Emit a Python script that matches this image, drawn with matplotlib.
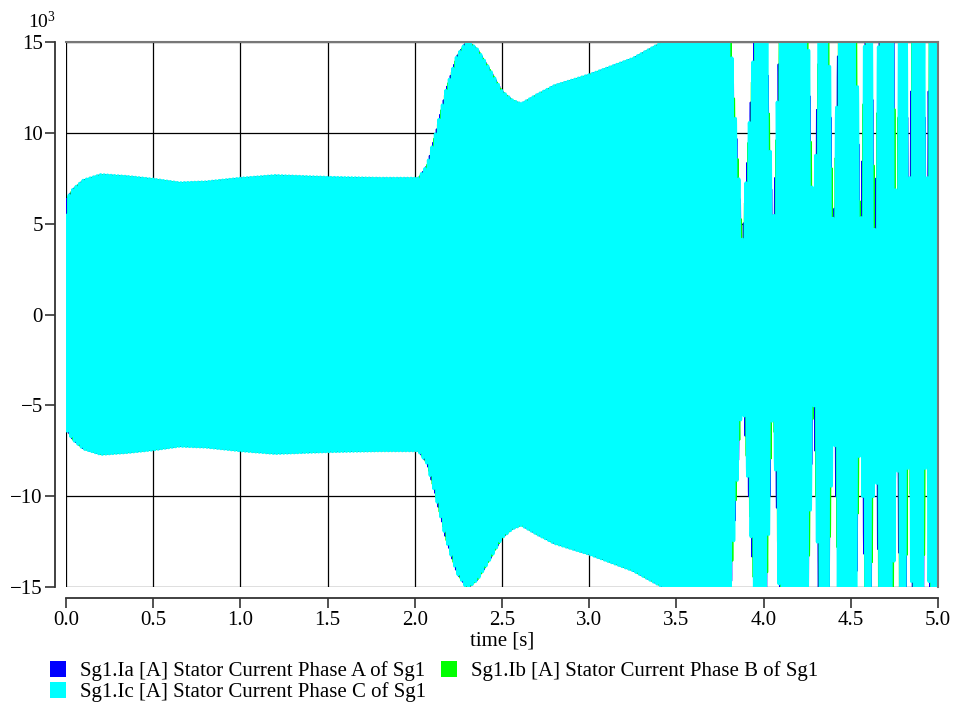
import numpy as np
import matplotlib.pyplot as plt
from matplotlib.patches import Patch

# upper envelope of the stator currents (kA) up to the loss of synchronism
env_t = [0.00, 0.04, 0.10, 0.20, 0.35, 0.50, 0.65, 0.80, 1.00, 1.20, 1.50, 1.80,
         2.02, 2.07, 2.12, 2.18, 2.24, 2.30, 2.36, 2.43, 2.50, 2.56, 2.61, 2.70,
         2.80, 3.00, 3.25, 3.42, 3.60]
env_a = [6.3, 6.9, 7.4, 7.7, 7.6, 7.45, 7.25, 7.3, 7.5, 7.65, 7.55, 7.5,
         7.5, 8.2, 10.0, 12.4, 14.2, 15.1, 14.6, 13.5, 12.3, 11.8, 11.6, 12.1,
         12.6, 13.2, 14.1, 15.0, 20.0]

# pole slips: time of each envelope dip and its half width at 15 kA
slip_t = [3.879, 4.054, 4.286, 4.401, 4.556, 4.639, 4.762, 4.834, 4.934]
slip_hw = [0.066, 0.035, 0.029, 0.026, 0.023, 0.020, 0.016, 0.015, 0.015]
slip_floor = 4.0
slip_peak = 37.0
end_amp = 13.0

f_grid = 50.0
t_end = 5.0

labels = ['Sg1.Ia [A] Stator Current Phase A of Sg1',
          'Sg1.Ib [A] Stator Current Phase B of Sg1',
          'Sg1.Ic [A] Stator Current Phase C of Sg1']
colours = ['#0000ff', '#00ff00', '#00ffff']
shifts = [0.0, -120.0, 120.0]
widths = [1.2, 1.2, 2.3]

xticks = np.arange(0, 5.01, 0.5)
yticks = np.arange(-15, 16, 5)

# envelope knots incl. the slip dips
kt = list(env_t)
ka = list(env_a)
for c, hw in zip(slip_t, slip_hw):
    left = c - hw
    if left - kt[-1] > 0.02:
        kt.append(0.5 * (kt[-1] + left))
        ka.append(slip_peak)
    kt += [left, c, c + hw]
    ka += [15.0, slip_floor, 15.0]
kt += [0.5 * (kt[-1] + t_end), t_end]
ka += [slip_peak, end_amp]

t = np.linspace(0, t_end, 25001)
amp = np.interp(t, kt, ka)

plt.rcParams['font.family'] = ['Liberation Serif', 'DejaVu Serif']
plt.rcParams['font.size'] = 15

fig = plt.figure(figsize=(9.55, 7.06), dpi=100)
ax = fig.add_axes([66 / 955, 1 - 587 / 706, 872 / 955, 545 / 706])

for col, sh, lw in zip(colours, shifts, widths):
    i = amp * np.sin(2 * np.pi * f_grid * t + np.deg2rad(sh))
    ax.plot(t, i, color=col, lw=lw)

ax.set_xlim(0, t_end)
ax.set_ylim(-15, 15)
ax.set_xticks(xticks)
ax.set_xticklabels(['%.1f' % v for v in xticks])
ax.set_yticks(yticks)
ax.set_yticklabels([('%d' % v).replace('-', '\u2212') for v in yticks])
ax.grid(True, color='black', lw=0.9)
ax.set_axisbelow(True)

for s in ['left', 'bottom']:
    ax.spines[s].set_position(('outward', 8))
    ax.spines[s].set_color('#333333')
    ax.spines[s].set_linewidth(1.3)
for s in ['top', 'right']:
    ax.spines[s].set_color('#777777')
    ax.spines[s].set_linewidth(1.5)
ax.tick_params(axis='both', direction='out', length=7.2, width=1.2, color='#333333')
ax.tick_params(axis='y', pad=1.5)
ax.tick_params(axis='x', pad=2)

ax.set_xlabel('time [s]', labelpad=1)
fig.text(28 / 955, 1 - 21 / 706, r'$\mathregular{10^3}$', ha='left', va='center',
         fontsize=14)

handles = [Patch(facecolor=c, edgecolor='none') for c in colours]
order = [0, 2, 1]
ax.legend([handles[k] for k in order], [labels[k] for k in order], ncol=2,
          loc='upper left', bbox_to_anchor=(50 / 955, 1 - 661 / 706),
          bbox_transform=fig.transFigure, frameon=False, borderpad=0,
          borderaxespad=0, handlelength=0.78, handleheight=0.8,
          handletextpad=0.68, columnspacing=0.68, labelspacing=0.02)

fig.savefig('out.png', dpi=100)
